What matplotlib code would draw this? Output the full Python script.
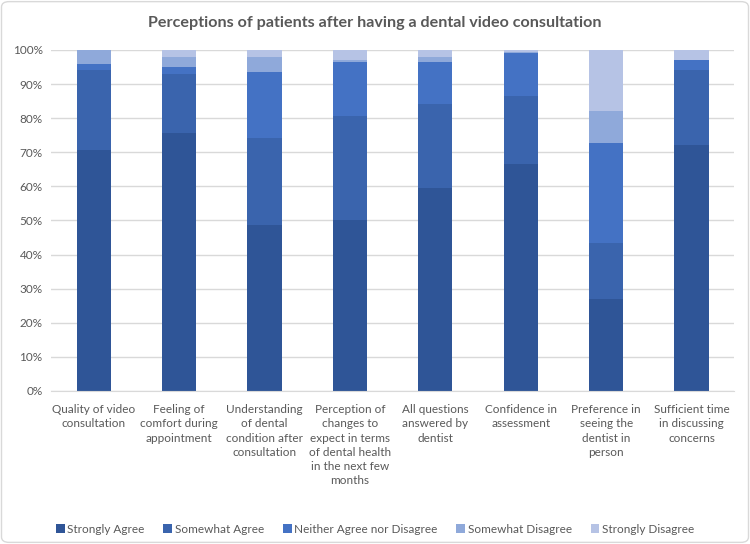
import matplotlib
matplotlib.use("Agg")
import matplotlib.pyplot as plt
from matplotlib.patches import FancyBboxPatch
import numpy as np

categories = [
    "Quality of video\nconsultation",
    "Feeling of\ncomfort during\nappointment",
    "Understanding\nof dental\ncondition after\nconsultation",
    "Perception of\nchanges to\nexpect in terms\nof dental health\nin the next few\nmonths",
    "All questions\nanswered by\ndentist",
    "Confidence in\nassessment",
    "Preference in\nseeing the\ndentist in\nperson",
    "Sufficient time\nin discussing\nconcerns",
]
series_names = ["Strongly Agree", "Somewhat Agree", "Neither Agree nor Disagree",
                "Somewhat Disagree", "Strongly Disagree"]
strongly_agree = [70.7, 75.8, 48.6, 50.1, 59.4, 66.7, 27.1, 72.2]
somewhat_agree = [23.4, 17.2, 25.7, 30.5, 24.9, 19.9, 16.3, 22.0]
neither = [1.8, 2.0, 19.2, 15.8, 12.1, 12.6, 29.4, 2.9]
somewhat_disagree = [4.1, 3.0, 4.4, 0.7, 1.5, 0.3, 9.3, 0.0]
strongly_disagree = [0.0, 2.0, 2.1, 2.9, 2.1, 0.5, 17.9, 2.9]
y_ticks = [0, 10, 20, 30, 40, 50, 60, 70, 80, 90, 100]

colors = ["#2F5597", "#3A64AD", "#4472C4", "#8FA9DA", "#B6C3E5"]
series = [strongly_agree, somewhat_agree, neither, somewhat_disagree, strongly_disagree]

plt.rcParams['font.family'] = ['Lato', 'DejaVu Sans']
fig = plt.figure(figsize=(7.5, 5.44), dpi=100)
ax = fig.add_axes([0.068, 0.2813, 0.911, 0.6268])

x = np.arange(len(categories))
bottom = np.zeros(len(categories))
handles = []
for name, vals, c in zip(series_names, series, colors):
    h = ax.bar(x, vals, 0.4, bottom=bottom, color=c, label=name, zorder=3)
    handles.append(h)
    bottom += np.array(vals)

ax.set_xlim(-0.5, len(categories) - 0.5)
ax.set_ylim(0, 100)
ax.set_yticks(y_ticks)
ax.set_yticklabels([f"{t}%" for t in y_ticks])
ax.yaxis.grid(True, color="#D9D9D9", linewidth=1, zorder=0)
ax.set_xticks(x)
ax.set_xticklabels(categories, fontsize=8.5, color="#595959", linespacing=1.36, va="top")
ax.tick_params(axis="y", labelsize=8.5, colors="#595959", length=0, pad=6)
ax.tick_params(axis="x", length=0, pad=9.5)
for s in ["top", "right", "left"]:
    ax.spines[s].set_visible(False)
ax.spines["bottom"].set_color("#D9D9D9")
ax.spines["bottom"].set_zorder(4)

fig.text(0.5, 0.958, "Perceptions of patients after having a dental video consultation",
         ha="center", va="center", fontsize=11.6, color="#595959", fontweight="bold")

fig.legend(handles=handles, labels=series_names, loc="center", bbox_to_anchor=(0.5, 0.027),
           ncol=5, frameon=False, fontsize=8.5, labelcolor="#595959",
           handlelength=0.75, handleheight=0.75, handletextpad=0.2, columnspacing=1.6)

border = FancyBboxPatch((0.002, 0.003), 0.996, 0.994, boxstyle="round,pad=0,rounding_size=0.01",
                        transform=fig.transFigure, facecolor="none", edgecolor="#D9D9D9",
                        linewidth=1)
fig.patches.append(border)

fig.savefig("out.png", dpi=100)
